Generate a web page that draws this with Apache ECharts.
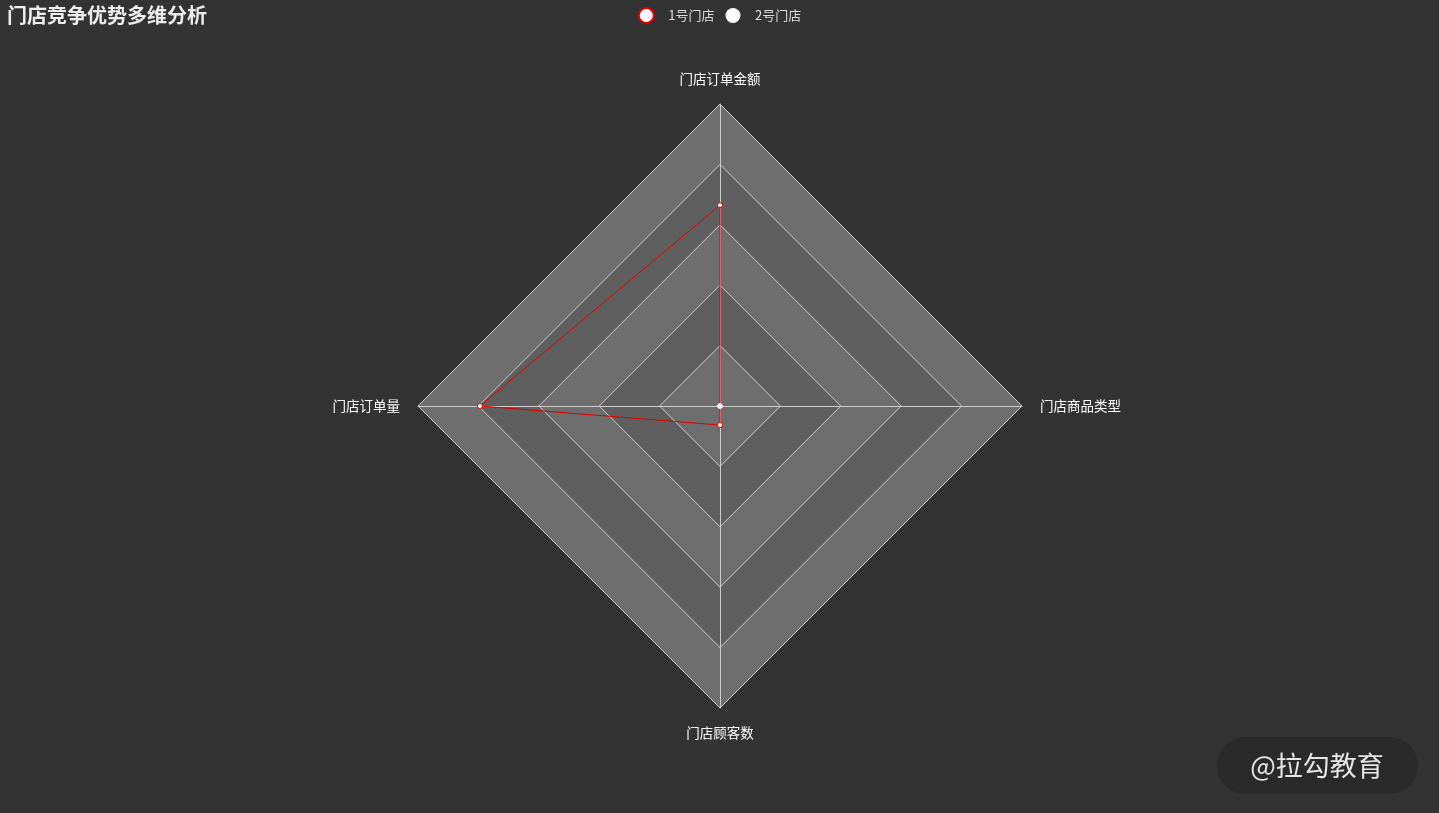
<!DOCTYPE html>
<html>
<head>
<meta charset="utf-8">
<script src="https://cdn.jsdelivr.net/npm/echarts@6/dist/echarts.min.js"></script>
<style>
html,body{margin:0;padding:0;background:#333;}
#main{width:1439px;height:813px;}
</style>
</head>
<body>
<div id="main"></div>
<script>
const titleText = '门店竞争优势多维分析';
const seriesNames = ['1号门店', '2号门店'];
const indicatorNames = ['门店订单金额', '门店订单量', '门店顾客数', '门店商品类型'];
const indicatorMax = [100, 100, 100, 100];
const store1Values = [66.5, 79.5, 6.3, 0];
const store2Values = [];
const watermarkText = '@拉勾教育';

const chart = echarts.init(document.getElementById('main'));
const option = {
  backgroundColor: '#333',
  title: {
    text: titleText,
    left: 2, top: 0,
    textStyle: { color: '#eee', fontSize: 20, fontWeight: 'bold', fontFamily: 'Noto Sans CJK SC' }
  },
  legend: {
    data: seriesNames,
    top: 2,
    left: 'center',
    icon: 'circle',
    itemWidth: 28,
    itemHeight: 15,
    itemGap: 11,
    textStyle: { color: '#ddd', fontSize: 13, fontFamily: 'Noto Sans CJK SC', padding: [0, 0, 0, 3] }
  },
  radar: {
    center: [720, 406],
    radius: 302,
    shape: 'polygon',
    splitNumber: 5,
    indicator: indicatorNames.map((n, i) => ({ name: n, max: indicatorMax[i] })),
    axisName: { color: '#fff', fontSize: 13.5, fontFamily: 'Noto Sans CJK SC' },
    nameGap: 18,
    splitLine: { lineStyle: { color: '#ccc', width: 1 } },
    axisLine: { lineStyle: { color: '#ccc', width: 1 } },
    splitArea: { show: true, areaStyle: { color: ['rgba(250,250,250,0.3)', 'rgba(200,200,200,0.3)'] } }
  },
  series: [{
    type: 'radar',
    symbol: 'circle',
    symbolSize: 5,
    data: [
      {
        name: seriesNames[0],
        value: store1Values,
        lineStyle: { color: '#e00000', width: 1 },
        itemStyle: { color: '#fff', borderColor: '#e00000', borderWidth: 1 }
      },
      {
        name: seriesNames[1],
        value: store2Values,
        lineStyle: { color: '#fff', width: 1 },
        itemStyle: { color: '#fff' }
      }
    ]
  }],
  graphic: [{
    type: 'group',
    right: 21, bottom: 19,
    children: [
      { type: 'rect', shape: { x: 0, y: 0, width: 201, height: 57, r: 28 }, style: { fill: '#2a2a2a' } },
      { type: 'text', x: 100, y: 29, style: { text: watermarkText, fill: '#e6e6e6', font: '27px "Noto Sans CJK SC"', align: 'center', verticalAlign: 'middle' } }
    ]
  }]
};
chart.setOption(option);
</script>
</body>
</html>
